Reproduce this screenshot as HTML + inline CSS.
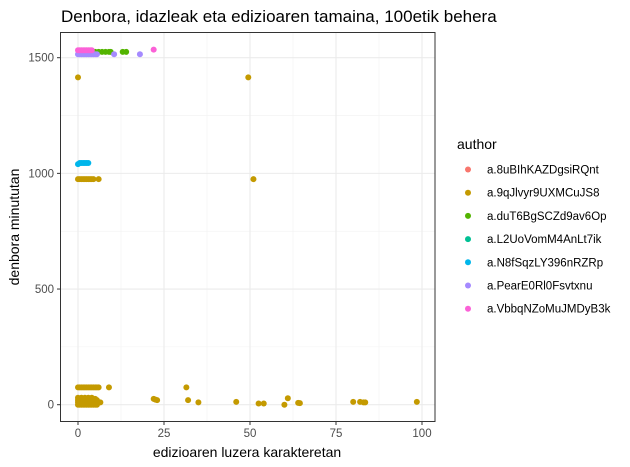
<!DOCTYPE html>
<html><head><meta charset="utf-8">
<style>
html,body{margin:0;padding:0;background:#fff;}
svg{display:block;font-family:"Liberation Sans",sans-serif;}
</style></head>
<body>
<svg id="chart" width="630" height="467" xmlns="http://www.w3.org/2000/svg">
<text x="61" y="22" font-size="17" fill="#000">Denbora, idazleak eta edizioaren tamaina, 100etik behera</text>
<g id="grid"></g>
<g id="points"></g>
<rect x="60.5" y="32.5" width="374.5" height="389" fill="none" stroke="#333" stroke-width="1"/>
<g id="axes"></g>
<text x="247" y="457" font-size="14" text-anchor="middle" fill="#000">edizioaren luzera karakteretan</text>
<text transform="translate(19,227) rotate(-90)" font-size="14" text-anchor="middle" fill="#000">denbora minututan</text>
<g id="legend"></g>
</svg>
<script>
const xTicks=[0,25,50,75,100];
const yTicks=[0,500,1000,1500];
const authors=["a.8uBIhKAZDgsiRQnt","a.9qJlvyr9UXMCuJS8","a.duT6BgSCZd9av6Op","a.L2UoVomM4AnLt7ik","a.N8fSqzLY396nRZRp","a.PearE0Rl0Fsvtxnu","a.VbbqNZoMuJMDyB3k"];
const colors=["#F8766D","#C49A00","#53B400","#00C094","#00B6EB","#A58AFF","#FB61D7"];
const seriesRed=[];
const seriesGold=[[0,1415],[49.5,1415],[51,975],[0,975],[0.5,975],[1,975],[1.5,975],[2,975],[2.5,975],[3,975],[3.5,975],[4,975],[4.5,975],[6,975],
[0,75],[0.5,75],[1,75],[1.5,75],[2,75],[2.5,75],[3,75],[3.5,75],[4,75],[4.5,75],[5,75],[5.5,75],[6,75],[9,75],
[0,0],[0.5,0],[1,0],[1.5,0],[2,0],[2.5,0],[3,0],[3.5,0],[4,0],[4.5,0],[5,0],[5.5,0],
[0,10],[0.5,10],[1,10],[1.5,10],[2,10],[2.5,10],[3,10],[3.5,10],[4,10],[4.5,10],[5,10],[5.5,10],[6,10],[6.5,10],
[0,20],[0.5,20],[1,20],[1.5,20],[2,20],[2.5,20],[3,20],[3.5,20],[4,20],[4.5,20],[5,20],[5.5,20],
[0,30],[1,30],[2,30],[3,30],[4,30],[5,25],
[22,25],[22.5,22],[23,20],[31.5,75],[32,20],[35,10],[46,12],[52.5,5],[54,5],[60,0],[61,28],[64,8],[64.5,7],[80,12],[82,12],[83,10],[83.5,10],[98.5,12]];
const seriesGreen=[[1,1525],[2,1525],[3,1525],[4,1525],[5,1525],[6,1525],[7,1525],[8,1525],[9,1525],[9.5,1525],[13,1525],[14,1525]];
const seriesTeal=[];
const seriesBlue=[[0,1040],[0.5,1045],[1,1045],[1.5,1045],[2,1045],[2.5,1045],[3,1045]];
const seriesPurple=[[0,1515],[0.5,1515],[1,1515],[1.5,1515],[2,1515],[2.5,1515],[3,1515],[3.5,1515],[4,1515],[4.5,1515],[5,1515],[5.5,1515],[10.5,1515],[18,1515]];
const seriesPink=[[0,1532],[0.5,1532],[1,1532],[1.5,1532],[2,1532],[2.5,1532],[3,1532],[3.5,1532],[4,1532],[22,1535]];
const allSeries=[seriesRed,seriesGold,seriesGreen,seriesTeal,seriesBlue,seriesPurple,seriesPink];

const NS="http://www.w3.org/2000/svg";
const X0=78,X1=422,Y0=404.7,Y1=57.7;
function sx(v){return X0+(X1-X0)*v/100;}
function sy(v){return Y0+(Y1-Y0)*v/1500;}
function mk(tag,attrs,parent){const e=document.createElementNS(NS,tag);for(const k in attrs)e.setAttribute(k,attrs[k]);parent.appendChild(e);return e;}
const grid=document.getElementById('grid'),axes=document.getElementById('axes');
mk('rect',{x:60.5,y:32.5,width:374.5,height:389,fill:'#fff'},grid);
for(let i=0;i<xTicks.length-1;i++){const m=(xTicks[i]+xTicks[i+1])/2;const l=mk('line',{x1:sx(m),x2:sx(m),y1:32.5,y2:421.5,stroke:'#f2f2f2','stroke-width':0.6},grid);

}
for(let i=0;i<yTicks.length-1;i++){const m=(yTicks[i]+yTicks[i+1])/2;const l=mk('line',{x1:60.5,x2:435,y1:sy(m),y2:sy(m),stroke:'#f2f2f2','stroke-width':0.6},grid);

}
xTicks.forEach(t=>{const l=mk('line',{x1:sx(t),x2:sx(t),y1:32.5,y2:421.5,stroke:'#ebebeb','stroke-width':1.1},grid);


mk('line',{x1:sx(t),x2:sx(t),y1:421.5,y2:425,stroke:'#333'},axes);
const tx=mk('text',{x:sx(t),y:437,'font-size':11.5,fill:'#4d4d4d','text-anchor':'middle'},axes);tx.textContent=t;

});
yTicks.forEach(t=>{const l=mk('line',{x1:60.5,x2:435,y1:sy(t),y2:sy(t),stroke:'#ebebeb','stroke-width':1.1},grid);


mk('line',{x1:57,x2:60.5,y1:sy(t),y2:sy(t),stroke:'#333'},axes);
const tx=mk('text',{x:54,y:sy(t)+4,'font-size':11.5,fill:'#4d4d4d','text-anchor':'end'},axes);tx.textContent=t;

});
const pts=document.getElementById('points');
allSeries.forEach((s,i)=>{s.forEach(p=>{const c=mk('circle',{cx:sx(p[0]),cy:sy(p[1]),r:3,fill:colors[i]},pts);

});});
const lg=document.getElementById('legend');
const tt=mk('text',{x:457,y:149,'font-size':14,fill:'#000'},lg);tt.textContent='author';


authors.forEach((a,i)=>{const y=169.5+i*23.2;
const g=mk('g',{},lg);


mk('circle',{cx:468,cy:y,r:3,fill:colors[i]},g);
const t=mk('text',{x:487,y:y+4,'font-size':11.5,fill:'#000'},g);t.textContent=a;});
</script>
</body></html>
